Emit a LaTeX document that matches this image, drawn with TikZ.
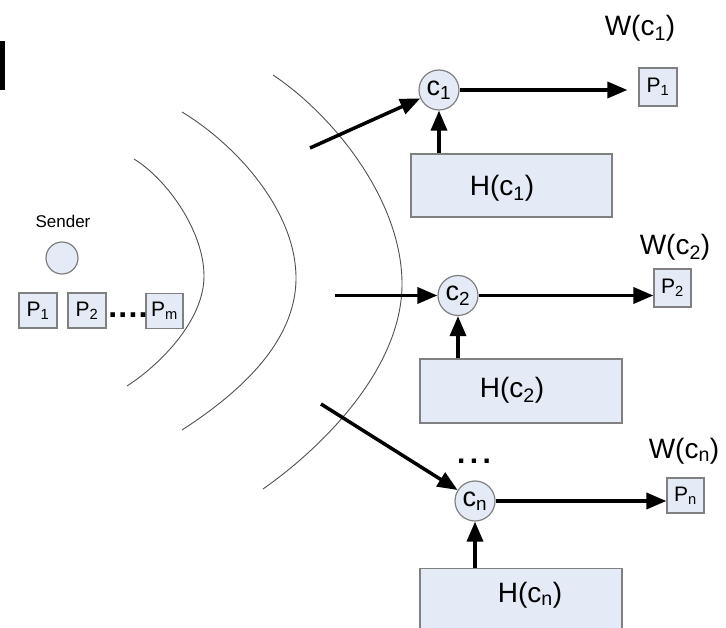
\documentclass[tikz,border=0pt]{standalone}
\usepackage{fontspec}
\setmainfont{Liberation Sans}
\usetikzlibrary{arrows.meta,calc}
\definecolor{lb}{HTML}{E4EBF6}
\definecolor{bd}{HTML}{808080}
\definecolor{wavec}{HTML}{505050}
\tikzset{
  cnode/.style={circle, draw=bd, line width=1.2pt, fill=lb, minimum size=40pt, inner sep=0pt, font=\fontsize{27}{27}\selectfont},
  pbox/.style={rectangle, draw=bd, line width=1.2pt, fill=lb, minimum width=37pt, minimum height=37pt, inner sep=0pt, font=\fontsize{21}{21}\selectfont},
  hbox/.style={rectangle, draw=bd, line width=1.2pt, fill=lb, minimum width=201pt, minimum height=63pt, inner sep=0pt},
  lbl/.style={font=\fontsize{28}{28}\selectfont, inner sep=0pt},
  arr/.style={line width=3.5pt, -{Triangle[length=20pt,width=16pt]}},
  wave/.style={draw=wavec, line width=0.9pt},
}
\begin{document}
\begin{tikzpicture}[x=1pt,y=-1pt]
\clip (0,0) rectangle (726,628);
\useasboundingbox (0,0) rectangle (726,628);
% black bar
\fill[black] (0,41) rectangle (5,90);
% sender
\node[inner sep=0pt, font=\fontsize{17}{17}\selectfont] (sender) at (63,221) {Sender};
\node[circle, draw=bd, fill=lb, line width=1.2pt, minimum size=32pt, inner sep=0pt] (snd) at (62,258) {};
\node[pbox, minimum width=38pt, minimum height=35pt] (sP1) at (38,310.5) {P\textsubscript{1}};
\node[pbox, minimum width=38pt, minimum height=35pt] (sP2) at (87,310.5) {P\textsubscript{2}};
\node[pbox, minimum width=37pt, minimum height=35pt] (sPm) at (164.5,311) {P\textsubscript{m}};
\node[anchor=base, inner sep=0pt, font=\fontsize{32}{32}\selectfont\bfseries] (sdots) at (128,318) {.\kern1.2pt.\kern1.2pt.\kern1.2pt.};
% waves
\draw[wave] (134,159) .. controls (168,180) and (204,232) .. (204,276) .. controls (204,320) and (161,364) .. (127,386);
\draw[wave] (182,112) .. controls (238,146) and (296,212) .. (296,278) .. controls (296,344) and (236,395) .. (182,430);
\draw[wave] (273,75) .. controls (333,115) and (402,200) .. (402,284) .. controls (402,368) and (323,447) .. (263,489);
% receiver 1
\node[cnode] (c1) at (439,90) {c\textsubscript{1}};
\node[pbox, minimum width=38pt, minimum height=38pt] (P1) at (658,87) {P\textsubscript{1}};
\node[hbox] (H1) at (511.5,185.5) {};
\node[lbl] (H1t) at (502,188) {H(c\textsubscript{1})};
\node[lbl] (W1) at (640,28) {W(c\textsubscript{1})};
\coordinate (s1) at (310,148);
\draw[arr] (s1) -- (c1);
\draw[arr, shorten >=11pt] (c1) -- (c1 -| P1.west);
\draw[arr] (c1 |- H1.north) -- (c1);
% receiver 2
\node[cnode] (c2) at (458,295.5) {c\textsubscript{2}};
\node[pbox, minimum width=37pt, minimum height=38pt] (P2) at (672.5,288) {P\textsubscript{2}};
\node[hbox, minimum width=202pt, minimum height=64pt] (H2) at (521,391) {};
\node[lbl] (H2t) at (512,390) {H(c\textsubscript{2})};
\node[lbl] (W2) at (675,247) {W(c\textsubscript{2})};
\coordinate (s2) at (335,295.5);
\draw[arr] (s2) -- (c2);
\draw[arr] (c2) -- (c2 -| P2.west);
\draw[arr] (c2 |- H2.north) -- (c2);
% receiver n
\node[anchor=base, inner sep=0pt, font=\fontsize{30}{30}\selectfont\bfseries] (ndots) at (474,463) {.\kern4.5pt.\kern4.5pt.};
\node[cnode] (cn) at (475,501) {c\textsubscript{n}};
\node[pbox, minimum width=37pt, minimum height=35pt] (Pn) at (685.5,495.5) {P\textsubscript{n}};
\node[hbox, minimum width=202pt, minimum height=64pt, anchor=north] (Hn) at (521,568) {};
\node[lbl] (Hnt) at (530,595) {H(c\textsubscript{n})};
\node[lbl] (Wn) at (684,451) {W(c\textsubscript{n})};
\coordinate (sn) at (321,404);
\draw[arr] (sn) -- (cn);
\draw[arr] (cn) -- (cn -| Pn.west);
\draw[arr] (cn |- Hn.north) -- (cn);
\end{tikzpicture}
\end{document}
